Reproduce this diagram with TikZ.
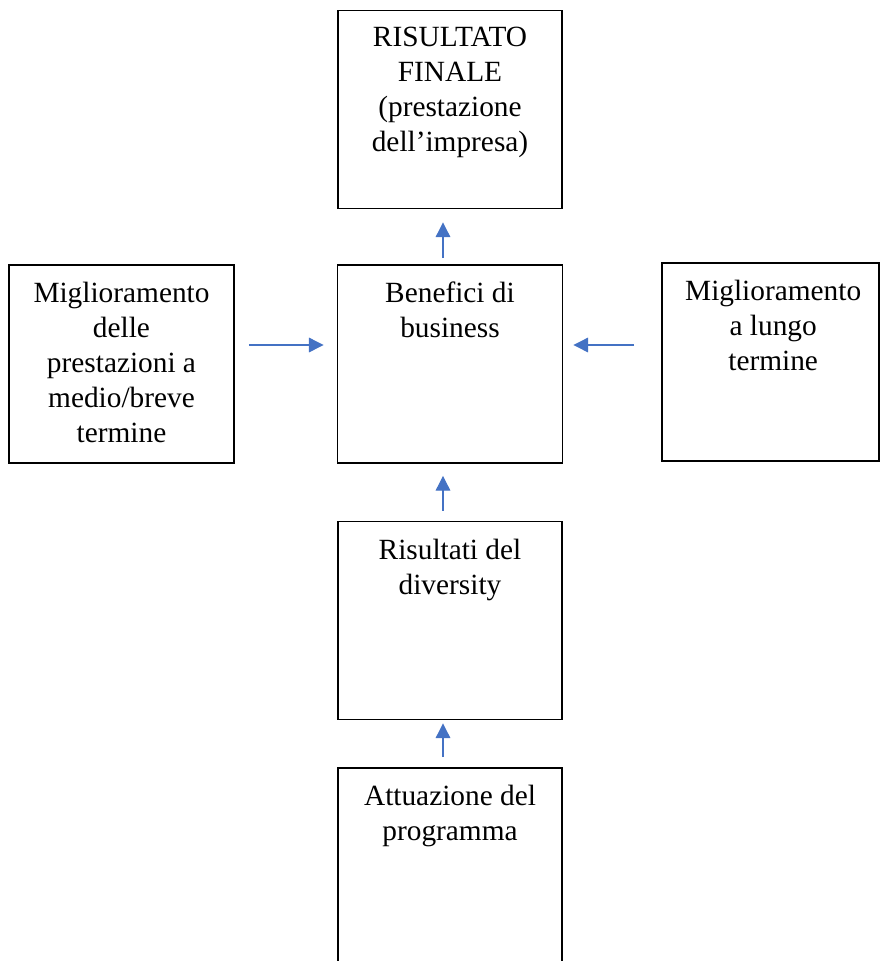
\documentclass[tikz,border=0pt]{standalone}
\usepackage{fontspec}
\setmainfont{Liberation Serif}
\usepackage{xcolor}
\usepackage{tikz}
\usetikzlibrary{positioning,arrows.meta}
\definecolor{arrowblue}{HTML}{4472C4}
\tikzset{
  box/.style={draw, line width=1.4pt, minimum width=168pt, minimum height=148.5pt, inner sep=0pt},
  boxtext/.style={inner sep=0pt, align=center, font=\fontsize{22}{26.25}\selectfont},
  arr/.style={draw=arrowblue, line width=0.8pt, -{Triangle[length=11pt,width=11pt]}, arrowblue}
}

\begin{document}
\begin{tikzpicture}[x=0.75pt,y=0.75pt,yscale=-1,xscale=1]
\path[use as bounding box, clip] (0,0) rectangle (880,961);

\node[box] (fin) at (450,109.5) {};
\node[box, minimum width=168.75pt] (ben) at (450,364) {};
\node[box, minimum width=168.75pt] (left) at (121.5,364) {};
\node[box, minimum width=162.75pt] (right) at (770.5,362) {};
\node[box] (ris) at (450,620.5) {};
\node[box] (att) at (450,867) {};

\node[boxtext, below=13pt of fin.north] (fintext) {RISULTATO\\FINALE\\(prestazione\\dell’impresa)};
\node[boxtext, below=13.5pt of ben.north] (bentext) {Benefici di\\business};
\node[boxtext, below=13.5pt of left.north] (lefttext) {Miglioramento\\delle\\prestazioni a\\medio/breve\\termine};
\node[boxtext, below=13.5pt of right.north, xshift=2pt] (righttext) {Miglioramento\\a lungo\\termine};
\node[boxtext, below=13.5pt of ris.north] (ristext) {Risultati del\\diversity};
\node[boxtext, below=13.5pt of att.north] (atttext) {Attuazione del\\programma};

\coordinate (ax) at (443,345);

\draw[arr, shorten <=4.5pt, shorten >=9.75pt] (ben.north -| ax) -- (fin.south -| ax);
\draw[arr, shorten <=7.5pt, shorten >=9pt] (ris.north -| ax) -- (ben.south -| ax);
\draw[arr, shorten <=7.5pt, shorten >=2.25pt] (att.north -| ax) -- (ris.south -| ax);
\draw[arr, shorten <=10.5pt, shorten >=9.75pt] (left.east |- ax) -- (ben.west |- ax);
\draw[arr, shorten <=20.25pt, shorten >=7.5pt] (right.west |- ax) -- (ben.east |- ax);
\end{tikzpicture}
\end{document}
